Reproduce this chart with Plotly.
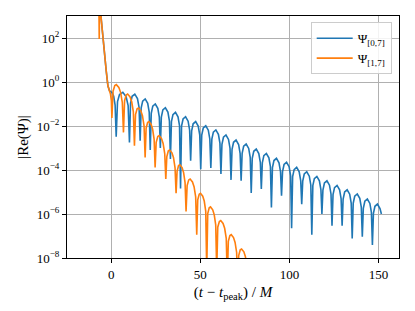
import numpy as np
import plotly.graph_objects as go

# ---- data; y given as log10 of |Re(Psi)| ----
t_blue = [-16.3, -7.0, -5.77, -5.21, -3.92, -2.80, -1.85, -0.95, -0.28, 0.56, 1.4, 2.2,
          2.80, 3.55, 4.66, 6.53, 8.39, 9.51,
          10.25, 10.85, 11.75, 13.25, 14.74, 15.64,
          16.24, 16.81, 17.66, 19.07, 20.49, 21.34,
          21.91, 22.48, 23.33, 24.74, 26.16, 27.01,
          27.57, 28.14, 28.99, 30.40, 31.82, 32.67,
          33.24, 33.81, 34.66, 36.07, 37.49, 38.34,
          38.91, 39.48, 40.33, 41.74, 43.16, 44.01,
          44.58, 45.15, 46.00, 47.41, 48.83, 49.68,
          50.24, 50.81, 51.66, 53.07, 54.49, 55.34,
          55.91, 56.48, 57.33, 58.74, 60.16, 61.01,
          61.58, 62.15, 63.00, 64.41, 65.83, 66.68,
          67.24, 67.81, 68.66, 70.07, 71.49, 72.34,
          72.91, 73.48, 74.33, 75.74, 77.16, 78.01,
          78.58, 79.15, 80.00, 81.41, 82.83, 83.68,
          84.24, 84.81, 85.66, 87.07, 88.49, 89.34,
          89.91, 90.48, 91.33, 92.74, 94.16, 95.01,
          95.58, 96.15, 97.00, 98.41, 99.83, 100.68,
          101.24, 101.81, 102.66, 104.07, 105.49, 106.34,
          106.91, 107.48, 108.33, 109.74, 111.16, 112.01,
          112.58, 113.15, 114.00, 115.41, 116.83, 117.68,
          118.24, 118.81, 119.66, 121.07, 122.49, 123.34,
          123.91, 124.48, 125.33, 126.74, 128.16, 129.01,
          129.58, 130.15, 131.00, 132.41, 133.83, 134.68,
          135.24, 135.81, 136.66, 138.07, 139.49, 140.34,
          140.91, 141.48, 142.33, 143.74, 145.16, 146.01,
          146.58, 147.15, 148.00, 149.41, 150.83, 151.63]
logy_blue = [5.0, 3.8, 3.01, 2.48, 1.42, 0.51, -0.17, -0.40, -0.44, -0.49, -0.65, -1.05,
             -2.49, -0.89, -0.57, -0.47, -0.67, -1.07,
             -2.75, -0.97, -0.65, -0.55, -0.75, -1.15,
             -2.67, -1.19, -0.87, -0.77, -0.97, -1.37,
             -3.09, -1.42, -1.10, -1.00, -1.20, -1.60,
             -3.00, -1.59, -1.27, -1.17, -1.37, -1.77,
             -3.50, -1.80, -1.48, -1.38, -1.58, -1.98,
             -4.84, -2.00, -1.68, -1.58, -1.78, -2.18,
             -3.58, -2.22, -1.90, -1.80, -2.00, -2.40,
             -3.96, -2.41, -2.09, -1.99, -2.19, -2.59,
             -3.91, -2.60, -2.28, -2.18, -2.38, -2.78,
             -4.18, -2.83, -2.51, -2.41, -2.61, -3.01,
             -4.45, -3.06, -2.74, -2.64, -2.84, -3.24,
             -4.49, -3.24, -2.92, -2.82, -3.02, -3.42,
             -5.05, -3.47, -3.15, -3.05, -3.25, -3.65,
             -4.86, -3.67, -3.35, -3.25, -3.45, -3.85,
             -5.70, -3.89, -3.57, -3.47, -3.67, -4.07,
             -5.17, -4.07, -3.75, -3.65, -3.85, -4.25,
             -6.65, -4.30, -3.98, -3.88, -4.08, -4.48,
             -5.55, -4.50, -4.18, -4.08, -4.28, -4.68,
             -6.94, -4.71, -4.39, -4.29, -4.49, -4.89,
             -6.00, -4.91, -4.59, -4.49, -4.69, -5.09,
             -6.53, -5.12, -4.80, -4.70, -4.90, -5.30,
             -6.53, -5.32, -5.00, -4.90, -5.10, -5.50,
             -7.11, -5.51, -5.19, -5.09, -5.29, -5.69,
             -7.03, -5.74, -5.42, -5.32, -5.52, -5.92,
             -7.41, -5.97, -5.65, -5.55, -5.75, -6.00]

t_orange = [-16.3, -6.9, -6.72, -6.5, -6.2, -5.77, -5.21, -3.92, -2.80, -1.85, -0.95, -0.4, 0.1,
            0.39, 1.04, 2.02, 2.86, 4.29, 5.27, 6.24,
            6.89, 7.51, 8.43, 9.23, 10.59, 11.51, 12.43,
            13.05, 13.65, 14.55, 15.33, 16.64, 17.54, 18.44,
            19.04, 19.60, 20.44, 21.17, 22.41, 23.25, 24.09,
            24.65, 25.25, 26.15, 26.93, 28.24, 29.14, 30.04,
            30.64, 31.22, 32.08, 32.83, 34.10, 34.97, 35.83,
            36.41, 36.97, 37.81, 38.54, 39.77, 40.61, 41.45,
            42.01, 42.61, 43.51, 44.29, 45.60, 46.50, 47.40,
            48.00, 48.56, 49.40, 50.13, 51.37, 52.21, 53.05,
            53.61, 54.17, 55.01, 55.74, 56.97, 57.81, 58.65,
            59.21, 59.80, 60.70, 61.47, 62.77, 63.67, 64.56,
            65.15, 65.73, 66.61, 67.36, 68.64, 69.52, 70.39,
            70.97, 71.55, 72.42, 73.17, 74.45, 75.32, 76.20]
logy_orange = [5.0, 3.6, 1.96, 3.4, 3.3, 3.01, 2.48, 1.42, 0.51, -0.17, -0.40, -0.55, -0.85,
               -1.64, -0.42, -0.16, -0.12, -0.25, -0.47, -0.93,
               -2.29, -0.85, -0.59, -0.55, -0.68, -0.90, -1.36,
               -2.90, -1.48, -1.22, -1.18, -1.31, -1.53, -1.99,
               -3.43, -2.10, -1.84, -1.80, -1.93, -2.15, -2.61,
               -3.88, -2.74, -2.48, -2.44, -2.57, -2.79, -3.25,
               -4.41, -3.39, -3.13, -3.09, -3.22, -3.44, -3.90,
               -5.06, -4.06, -3.80, -3.76, -3.89, -4.11, -4.57,
               -5.88, -4.71, -4.45, -4.41, -4.54, -4.76, -5.22,
               -6.94, -5.36, -5.10, -5.06, -5.19, -5.41, -5.87,
               -8.60, -5.98, -5.72, -5.68, -5.81, -6.03, -6.49,
               -8.60, -6.60, -6.34, -6.30, -6.43, -6.65, -7.11,
               -9.00, -7.24, -6.98, -6.94, -7.07, -7.29, -7.75,
               -9.30, -7.89, -7.63, -7.59, -7.72, -7.94, -8.40]

x_ticks = [0, 50, 100, 150]
y_tick_exps = [-8, -6, -4, -2, 0, 2]
y_tick_text = ["10<sup>%d</sup>" % e if e >= 0 else "10<sup>\u2212%d</sup>" % (-e) for e in y_tick_exps]

FONT = "Liberation Serif"

fig = go.Figure()
fig.add_trace(go.Scatter(x=t_blue, y=np.power(10.0, logy_blue), mode="lines",
                         line=dict(color="#1f77b4", width=1.6),
                         name="\u03a8<sub>[0,7]</sub>"))
fig.add_trace(go.Scatter(x=t_orange, y=np.power(10.0, logy_orange), mode="lines",
                         line=dict(color="#ff7f0e", width=1.6),
                         name="\u03a8<sub>[1,7]</sub>"))

axis_common = dict(showline=True, linecolor="black", linewidth=1, mirror=True,
                   ticks="outside", ticklen=4, tickcolor="black", tickwidth=1,
                   showgrid=True, gridcolor="#b0b0b0", gridwidth=0.8, zeroline=False,
                   tickfont=dict(family=FONT, size=13, color="black"))

fig.update_xaxes(range=[-24.8, 161.5], tickvals=x_ticks,
                 title=dict(text="(<i>t</i> \u2212 <i>t</i><sub>peak</sub>) / <i>M</i>",
                            font=dict(family=FONT, size=15, color="black"), standoff=5),
                 **axis_common)
fig.update_yaxes(type="log", range=[-8, 3], tickvals=[10.0 ** e for e in y_tick_exps],
                 ticktext=y_tick_text,
                 title=dict(text="|Re(\u03a8)|", font=dict(family=FONT, size=15, color="black"),
                            standoff=4),
                 **axis_common)

fig.update_layout(
    width=415, height=311,
    margin=dict(l=67, r=16, t=16, b=53),
    paper_bgcolor="white", plot_bgcolor="white",
    showlegend=True,
    legend=dict(x=0.978, y=0.974, xanchor="right", yanchor="top",
                bgcolor="rgba(255,255,255,0.85)", bordercolor="#cccccc", borderwidth=1,
                font=dict(family=FONT, size=13, color="black"),
                itemwidth=36),
    font=dict(family=FONT, size=13, color="black"),
)

fig.write_html("out.html", config={"displayModeBar": False},
               post_script="document.body.style.margin='0';")
